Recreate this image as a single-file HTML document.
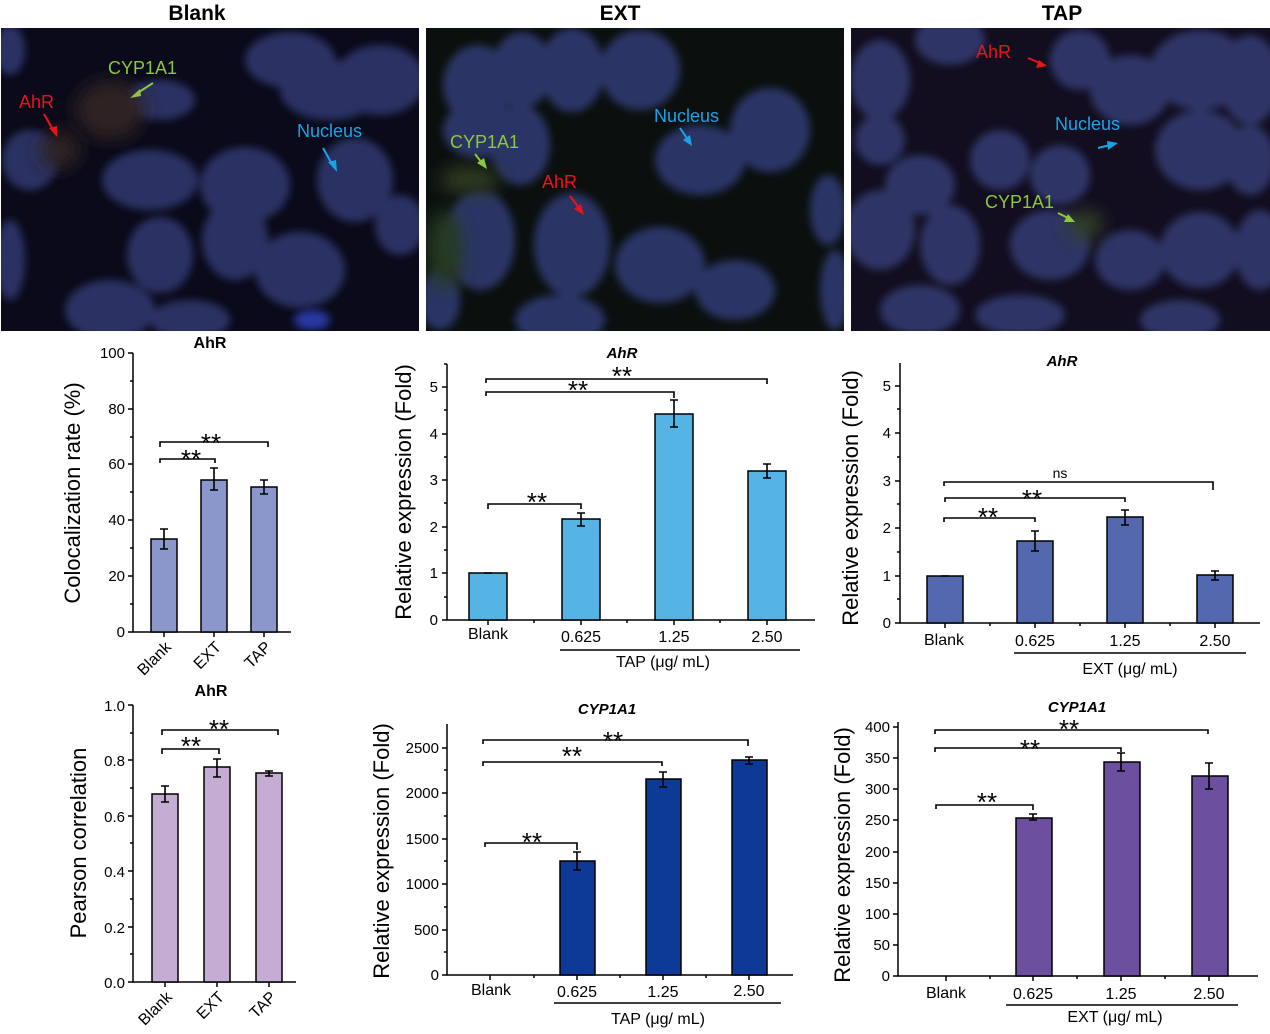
<!DOCTYPE html>
<html><head><meta charset="utf-8"><style>
html,body{margin:0;padding:0;background:#fff;}
svg{display:block;font-family:"Liberation Sans",Arial,sans-serif;}
</style></head><body>
<svg width="1270" height="1034" viewBox="0 0 1270 1034" xmlns="http://www.w3.org/2000/svg">
<defs>
<filter id="bl" x="-20%" y="-20%" width="140%" height="140%"><feGaussianBlur stdDeviation="4"/></filter>
<filter id="bl2" x="-50%" y="-50%" width="200%" height="200%"><feGaussianBlur stdDeviation="9"/></filter>
<clipPath id="c1"><rect x="1" y="28" width="418" height="303"/></clipPath>
<clipPath id="c2"><rect x="426" y="28" width="418" height="303"/></clipPath>
<clipPath id="c3"><rect x="851" y="28" width="419" height="303"/></clipPath>
</defs>
<g font-weight="bold" font-size="21" text-anchor="middle" fill="#000">
<text x="197" y="20">Blank</text><text x="620" y="20">EXT</text><text x="1062" y="20">TAP</text>
</g>
<!-- image 1 -->
<g clip-path="url(#c1)">
<rect x="1" y="28" width="418" height="303" fill="#0a0a1a"/>
<g fill="#2a3363" filter="url(#bl)">
<ellipse cx="160" cy="100" rx="35" ry="20"/><ellipse cx="290" cy="60" rx="45" ry="28"/><ellipse cx="330" cy="90" rx="50" ry="30"/><ellipse cx="380" cy="80" rx="45" ry="35"/>
<ellipse cx="150" cy="180" rx="48" ry="30"/><ellipse cx="245" cy="185" rx="45" ry="38"/><ellipse cx="355" cy="180" rx="38" ry="42"/><ellipse cx="400" cy="225" rx="25" ry="30"/>
<ellipse cx="235" cy="240" rx="33" ry="40"/><ellipse cx="160" cy="255" rx="33" ry="38"/><ellipse cx="300" cy="270" rx="45" ry="38"/><ellipse cx="110" cy="310" rx="45" ry="30"/>
<ellipse cx="30" cy="160" rx="28" ry="30"/><ellipse cx="10" cy="260" rx="15" ry="40"/><ellipse cx="190" cy="320" rx="40" ry="20"/><ellipse cx="10" cy="50" rx="15" ry="25"/>
</g>
<ellipse cx="110" cy="110" rx="35" ry="30" fill="#2e2424" filter="url(#bl2)"/>
<ellipse cx="60" cy="150" rx="20" ry="20" fill="#2e2424" filter="url(#bl2)"/>
<ellipse cx="312" cy="320" rx="18" ry="10" fill="#2838a0" filter="url(#bl)"/>
</g>
<!-- image 2 -->
<g clip-path="url(#c2)">
<rect x="426" y="28" width="418" height="303" fill="#0b100f"/>
<g fill="#2b3466" filter="url(#bl)">
<ellipse cx="478" cy="85" rx="35" ry="40"/><ellipse cx="522" cy="70" rx="30" ry="38"/><ellipse cx="572" cy="70" rx="32" ry="42"/><ellipse cx="640" cy="70" rx="40" ry="40"/>
<ellipse cx="700" cy="160" rx="45" ry="35"/><ellipse cx="770" cy="130" rx="40" ry="42"/><ellipse cx="478" cy="130" rx="35" ry="28"/><ellipse cx="520" cy="145" rx="30" ry="40"/>
<ellipse cx="480" cy="240" rx="35" ry="50"/><ellipse cx="572" cy="245" rx="38" ry="52"/><ellipse cx="660" cy="265" rx="45" ry="38"/><ellipse cx="735" cy="290" rx="40" ry="30"/>
<ellipse cx="560" cy="320" rx="45" ry="25"/><ellipse cx="828" cy="210" rx="18" ry="35"/><ellipse cx="835" cy="290" rx="15" ry="40"/><ellipse cx="440" cy="300" rx="20" ry="30"/>
</g>
<ellipse cx="470" cy="180" rx="30" ry="14" fill="#2e3a22" filter="url(#bl2)"/>
<ellipse cx="445" cy="250" rx="18" ry="40" fill="#263a24" filter="url(#bl2)"/>
</g>
<!-- image 3 -->
<g clip-path="url(#c3)">
<rect x="851" y="28" width="419" height="303" fill="#120d1f"/>
<g fill="#2d3566" filter="url(#bl)">
<ellipse cx="880" cy="80" rx="30" ry="40"/><ellipse cx="950" cy="40" rx="35" ry="25"/><ellipse cx="1080" cy="60" rx="30" ry="30"/><ellipse cx="1130" cy="90" rx="40" ry="35"/><ellipse cx="1200" cy="70" rx="50" ry="40"/><ellipse cx="1250" cy="80" rx="30" ry="45"/>
<ellipse cx="1200" cy="150" rx="45" ry="40"/><ellipse cx="1250" cy="160" rx="25" ry="35"/><ellipse cx="1000" cy="160" rx="30" ry="30"/><ellipse cx="1060" cy="175" rx="30" ry="30"/>
<ellipse cx="920" cy="185" rx="35" ry="30"/><ellipse cx="880" cy="230" rx="35" ry="40"/><ellipse cx="950" cy="245" rx="30" ry="40"/><ellipse cx="1050" cy="245" rx="40" ry="35"/>
<ellipse cx="1130" cy="260" rx="35" ry="30"/><ellipse cx="1200" cy="250" rx="40" ry="38"/><ellipse cx="1260" cy="250" rx="25" ry="40"/><ellipse cx="920" cy="310" rx="40" ry="25"/><ellipse cx="1020" cy="315" rx="45" ry="20"/><ellipse cx="1180" cy="320" rx="40" ry="20"/>
<ellipse cx="880" cy="140" rx="25" ry="25"/>
</g>
<ellipse cx="1085" cy="225" rx="18" ry="15" fill="#333f28" filter="url(#bl2)"/>
</g>
<!-- image labels -->
<g font-size="18">
<text x="108" y="74" fill="#8dc63f">CYP1A1</text><line x1="153" y1="83" x2="136" y2="94" stroke="#8dc63f" stroke-width="2"/><polygon points="130,98 140,89 141,96" fill="#8dc63f"/>
<text x="19" y="108" fill="#e8141c">AhR</text><line x1="44" y1="114" x2="53" y2="130" stroke="#e8141c" stroke-width="2"/><polygon points="57,137 49,128 57,126" fill="#e8141c"/>
<text x="297" y="137" fill="#1aa3e8">Nucleus</text><line x1="323" y1="148" x2="332" y2="164" stroke="#1aa3e8" stroke-width="2"/><polygon points="337,172 328,162 336,160" fill="#1aa3e8"/>
<text x="450" y="148" fill="#8dc63f">CYP1A1</text><line x1="475" y1="154" x2="482" y2="163" stroke="#8dc63f" stroke-width="2"/><polygon points="487,169 477,163 484,158" fill="#8dc63f"/>
<text x="542" y="188" fill="#e8141c">AhR</text><line x1="570" y1="196" x2="579" y2="208" stroke="#e8141c" stroke-width="2"/><polygon points="584,215 574,209 581,204" fill="#e8141c"/>
<text x="654" y="122" fill="#1aa3e8">Nucleus</text><line x1="680" y1="128" x2="688" y2="140" stroke="#1aa3e8" stroke-width="2"/><polygon points="692,146 683,140 690,135" fill="#1aa3e8"/>
<text x="976" y="58" fill="#e8141c">AhR</text><line x1="1028" y1="58" x2="1040" y2="63" stroke="#e8141c" stroke-width="2"/><polygon points="1047,66 1036,68 1039,60" fill="#e8141c"/>
<text x="1055" y="130" fill="#1aa3e8">Nucleus</text><line x1="1098" y1="148" x2="1110" y2="145" stroke="#1aa3e8" stroke-width="2"/><polygon points="1118,143 1108,150 1107,141" fill="#1aa3e8"/>
<text x="985" y="208" fill="#8dc63f">CYP1A1</text><line x1="1058" y1="213" x2="1068" y2="218" stroke="#8dc63f" stroke-width="2"/><polygon points="1075,222 1064,222 1068,214" fill="#8dc63f"/>
</g>

<g stroke="#000" stroke-width="1.5" fill="none">
<path d="M133,353 V632 H291"/>
<path d="M128,353h5M128,409h5M128,464h5M128,520h5M128,576h5M128,632h5M130,381h3M130,437h3M130,492h3M130,548h3M130,604h3M164,632v5M214,632v5M264,632v5"/>
<path d="M133,705 V982 H296"/>
<path d="M128,705h5M128,760h5M128,816h5M128,871h5M128,927h5M128,982h5M130,733h3M130,788h3M130,843h3M130,899h3M130,954h3M165,982v5M217,982v5M269,982v5"/>
<path d="M447,364 V620 H815"/>
<path d="M442,620h5M442,573h5M442,527h5M442,480h5M442,434h5M442,387h5M444,597h3M444,550h3M444,503h3M444,457h3M444,410h3M444,364h3M488,620v5M581,620v5M674,620v5M767,620v5M534,620v3M627,620v3M720,620v3"/>
<path d="M560,650H800"/>
<path d="M900,363 V623 H1260"/>
<path d="M895,623h5M895,576h5M895,528h5M895,481h5M895,433h5M895,386h5M897,599h3M897,552h3M897,504h3M897,457h3M897,409h3M945,623v5M1035,623v5M1125,623v5M1215,623v5M990,623v3M1080,623v3M1170,623v3"/>
<path d="M1014,653H1246"/>
<path d="M447,724 V975 H793"/>
<path d="M442,975h5M442,930h5M442,884h5M442,839h5M442,793h5M442,748h5M444,952h3M444,907h3M444,861h3M444,816h3M444,770h3M490,975v5M577,975v5M663,975v5M749,975v5M534,975v3M620,975v3M706,975v3"/>
<path d="M554,1003H781"/>
<path d="M898,722 V976 H1258"/>
<path d="M893,976h5M893,945h5M893,914h5M893,883h5M893,852h5M893,820h5M893,789h5M893,758h5M893,727h5M946,976v5M1033,976v5M1121,976v5M1209,976v5M990,976v3M1077,976v3M1165,976v3"/>
<path d="M1006,1005H1238"/>
</g>

<g stroke="#000" stroke-width="1.5">
<rect x="151" y="539" width="26" height="93" fill="#8b96cb"/><rect x="201" y="480" width="26" height="152" fill="#8b96cb"/><rect x="251" y="487" width="26" height="145" fill="#8b96cb"/>
<rect x="152" y="794" width="26" height="188" fill="#c4acd2"/><rect x="204" y="767" width="26" height="215" fill="#c4acd2"/><rect x="256" y="773" width="26" height="209" fill="#c4acd2"/>
<rect x="469" y="573" width="38" height="47" fill="#56b4e4"/><rect x="562" y="519" width="38" height="101" fill="#56b4e4"/><rect x="655" y="414" width="38" height="206" fill="#56b4e4"/><rect x="748" y="471" width="38" height="149" fill="#56b4e4"/>
<rect x="927" y="576" width="36" height="47" fill="#5468b0"/><rect x="1017" y="541" width="36" height="82" fill="#5468b0"/><rect x="1107" y="517" width="36" height="106" fill="#5468b0"/><rect x="1197" y="575" width="36" height="48" fill="#5468b0"/>
<rect x="560" y="861" width="35" height="114" fill="#0d3a96"/><rect x="646" y="779" width="35" height="196" fill="#0d3a96"/><rect x="732" y="760" width="35" height="215" fill="#0d3a96"/>
<rect x="1016" y="818" width="36" height="158" fill="#6c4f9f"/><rect x="1104" y="762" width="36" height="214" fill="#6c4f9f"/><rect x="1192" y="776" width="36" height="200" fill="#6c4f9f"/>
</g>

<g stroke="#000" stroke-width="1.6" fill="none">
<path d="M164,529v20M160,529h8M160,549h8 M214,468v22M210,468h8M210,490h8 M264,480v14M260,480h8M260,494h8"/>
<path d="M165,786v16M161,786h8M161,802h8 M217,759v18M213,759h8M213,777h8 M269,771v5M265,771h8M265,776h8"/>
<path d="M484,573h8 M581,513v13M577,513h8M577,526h8 M674,400v27M670,400h8M670,427h8 M767,464v14M763,464h8M763,478h8"/>
<path d="M941,576h8 M1035,531v20M1031,531h8M1031,551h8 M1125,510v15M1121,510h8M1121,525h8 M1215,571v9M1211,571h8M1211,580h8"/>
<path d="M577,852v18M573,852h8M573,870h8 M663,772v15M659,772h8M659,787h8 M749,757v7M745,757h8M745,764h8"/>
<path d="M1033,814v6M1029,814h8M1029,820h8 M1121,753v18M1117,753h8M1117,771h8 M1209,763v26M1205,763h8M1205,789h8"/>
<path d="M160,463V459H215V463 M160,447V442H268V447"/>
<path d="M162,754V749H219V754 M162,735V730H278V735"/>
<path d="M488,509V504H581V509 M486,396V392H674V398 M486,383V379H767V384"/>
<path d="M944,522V518H1035V522 M945,502V498H1125V502 M944,486V482H1213V490"/>
<path d="M485,847V843H577V850 M483,766V762H662V766 M483,744V740H748V746"/>
<path d="M936,809V805H1033V810 M935,752V748H1121V752 M935,734V730H1208V734"/>
<path d="M447,975h44" stroke-width="1"/><path d="M928,976h36" stroke-width="1"/>
</g>

<g font-size="26" fill="#000" text-anchor="middle">
<text x="211" y="452">**</text><text x="191" y="468">**</text>
<text x="219" y="738">**</text><text x="191" y="755">**</text>
<text x="537" y="511">**</text><text x="578" y="399">**</text><text x="622" y="385">**</text>
<text x="988" y="526">**</text><text x="1032" y="508">**</text>
<text x="532" y="851">**</text><text x="572" y="765">**</text><text x="613" y="750">**</text>
<text x="987" y="811">**</text><text x="1030" y="758">**</text><text x="1069" y="738">**</text>
</g>
<text x="1060" y="478" font-size="14" text-anchor="middle">ns</text>

<g font-weight="bold" font-size="16" text-anchor="middle">
<text x="210" y="348">AhR</text><text x="211" y="696">AhR</text>
</g>
<g font-weight="bold" font-style="italic" font-size="15" text-anchor="middle">
<text x="622" y="358">AhR</text><text x="1062" y="366">AhR</text><text x="607" y="714">CYP1A1</text><text x="1077" y="712">CYP1A1</text>
</g>

<g font-size="15" text-anchor="end">
<text x="125" y="358">100</text><text x="125" y="414">80</text><text x="125" y="469">60</text><text x="125" y="525">40</text><text x="125" y="581">20</text><text x="125" y="637">0</text>
<text x="125" y="711">1.0</text><text x="125" y="766">0.8</text><text x="125" y="822">0.6</text><text x="125" y="877">0.4</text><text x="125" y="933">0.2</text><text x="125" y="988">0.0</text>
<text x="438" y="625">0</text><text x="438" y="578">1</text><text x="438" y="532">2</text><text x="438" y="485">3</text><text x="438" y="439">4</text><text x="438" y="392">5</text>
<text x="891" y="628">0</text><text x="891" y="581">1</text><text x="891" y="533">2</text><text x="891" y="486">3</text><text x="891" y="438">4</text><text x="891" y="391">5</text>
<text x="439" y="980">0</text><text x="439" y="935">500</text><text x="439" y="889">1000</text><text x="439" y="844">1500</text><text x="439" y="798">2000</text><text x="439" y="753">2500</text>
<text x="890" y="981">0</text><text x="890" y="950">50</text><text x="890" y="919">100</text><text x="890" y="888">150</text><text x="890" y="857">200</text><text x="890" y="825">250</text><text x="890" y="794">300</text><text x="890" y="763">350</text><text x="890" y="732">400</text>
</g>
<g font-size="16" text-anchor="end">
<text transform="translate(172,648) rotate(-45)">Blank</text><text transform="translate(222,648) rotate(-45)">EXT</text><text transform="translate(272,648) rotate(-45)">TAP</text>
<text transform="translate(173,998) rotate(-45)">Blank</text><text transform="translate(225,998) rotate(-45)">EXT</text><text transform="translate(277,998) rotate(-45)">TAP</text>
</g>
<g font-size="16" text-anchor="middle">
<text x="488" y="639">Blank</text><text x="581" y="642">0.625</text><text x="674" y="642">1.25</text><text x="767" y="642">2.50</text>
<text x="663" y="667">TAP (μg/ mL)</text>
<text x="944" y="645">Blank</text><text x="1035" y="646">0.625</text><text x="1125" y="646">1.25</text><text x="1215" y="646">2.50</text>
<text x="1130" y="674">EXT (μg/ mL)</text>
<text x="491" y="995">Blank</text><text x="577" y="997">0.625</text><text x="663" y="997">1.25</text><text x="749" y="996">2.50</text>
<text x="658" y="1024">TAP (μg/ mL)</text>
<text x="946" y="998">Blank</text><text x="1033" y="999">0.625</text><text x="1121" y="999">1.25</text><text x="1209" y="999">2.50</text>
<text x="1115" y="1022">EXT (μg/ mL)</text>
</g>
<g font-size="22" text-anchor="middle">
<text transform="translate(80,493) rotate(-90)">Colocalization rate (%)</text>
<text transform="translate(86,843) rotate(-90)">Pearson correlation</text>
<text transform="translate(411,492) rotate(-90)">Relative expression (Fold)</text>
<text transform="translate(858,498) rotate(-90)">Relative expression (Fold)</text>
<text transform="translate(389,851) rotate(-90)">Relative expression (Fold)</text>
<text transform="translate(850,855) rotate(-90)">Relative expression (Fold)</text>
</g>
</svg>
</body></html>
